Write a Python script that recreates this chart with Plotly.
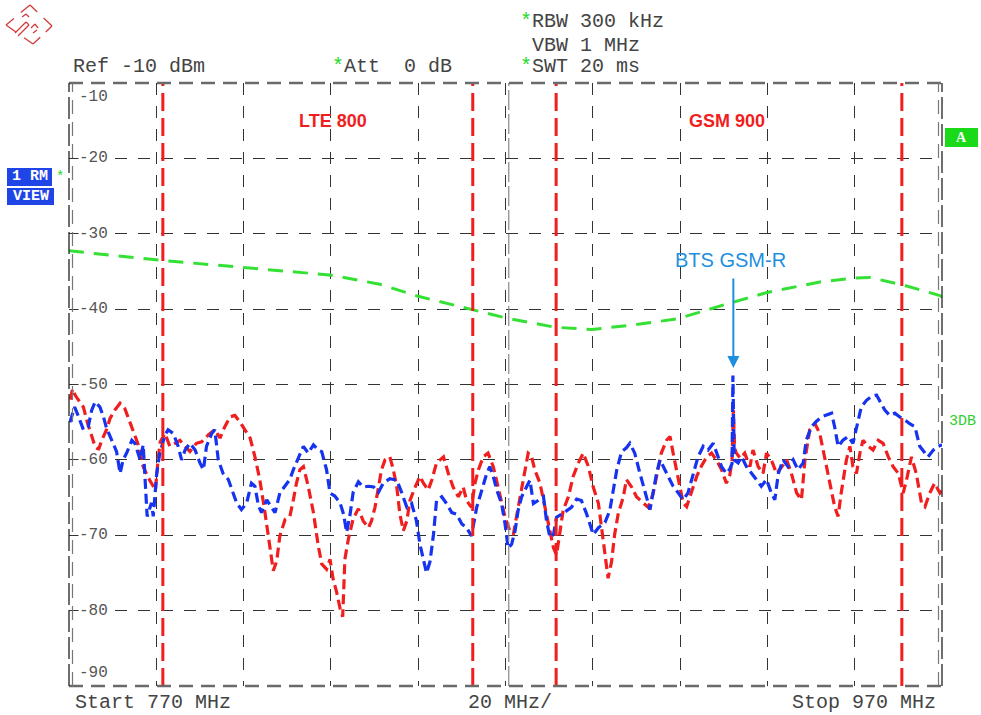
import plotly.graph_objects as go

# ---------------- data ----------------
freq_red = [770.3, 770.8, 771.5, 772.5, 773.3, 774.2, 774.8, 776.0, 776.8, 777.5, 778.6, 779.4, 780.5,
            781.7, 782.8, 783.6, 784.7, 786.0, 787.0, 788.2, 789.3, 789.8, 790.4, 790.9, 792.0, 793.1,
            794.3, 795.4, 796.6, 797.7, 799.2, 800.4, 801.9, 803.4, 804.6, 805.7, 806.9, 808.0, 809.2,
            810.3, 811.5, 812.6, 813.7, 814.9, 815.6, 816.8, 817.6, 818.3, 819.5, 820.6, 821.4, 822.1,
            822.9, 823.7, 824.8, 826.0, 827.1, 827.9, 829.0, 829.8, 830.5, 831.3, 832.1, 832.7, 833.2,
            834.0, 835.1, 836.3, 837.4, 838.6, 839.3, 840.1, 840.9, 841.6, 842.4, 843.5, 844.3, 845.1,
            845.8, 846.6, 847.4, 848.1, 849.3, 850.4, 851.2, 852.3, 853.1, 854.2, 855.8, 856.9, 858.0,
            859.2, 860.3, 861.1, 862.2, 863.0, 863.8, 864.9, 866.0, 867.2, 868.3, 869.1, 869.9, 871.0,
            871.8, 872.5, 873.3, 874.1, 875.2, 875.9, 876.7, 877.9, 879.0, 880.2, 881.0, 881.7, 882.5,
            883.2, 884.4, 885.5, 886.7, 887.8, 889.0, 890.1, 891.3, 892.0, 892.8, 893.5, 894.3, 895.0,
            895.8, 897.0, 897.7, 898.9, 900.0, 901.6, 902.7, 903.8, 905.0, 905.7, 906.9, 907.7, 908.4,
            909.6, 910.7, 911.5, 912.6, 913.8, 914.9, 916.1, 917.2, 918.3, 919.5, 920.6, 921.4, 921.9,
            922.2, 922.5, 922.9, 923.8, 924.8, 926.0, 926.7, 927.9, 929.0, 929.8, 930.9, 932.1, 933.2,
            934.4, 935.5, 936.7, 937.8, 938.6, 939.7, 940.9, 942.0, 943.2, 944.3, 945.4, 946.2, 946.9,
            948.1, 948.9, 949.6, 950.4, 951.2, 951.9, 953.1, 954.2, 955.4, 956.5, 957.7, 958.8, 960.0,
            961.1, 961.9, 963.0, 964.1, 965.3, 966.1, 967.2, 968.3, 969.5, 970.0]
lvl_red = [-52.0, -50.6, -51.5, -52.3, -53.0, -55.0, -56.2, -58.3, -58.6, -57.4, -56.0, -54.5, -53.4,
           -52.5, -53.2, -54.4, -56.0, -58.2, -60.9, -62.4, -63.5, -64.0, -60.0, -57.6, -56.5, -58.2,
           -57.8, -57.4, -58.2, -58.9, -57.8, -57.6, -56.7, -56.0, -57.1, -55.6, -54.3, -54.1, -55.0,
           -56.0, -57.1, -59.6, -62.6, -67.0, -70.1, -74.7, -73.4, -70.1, -67.9, -67.5, -65.3, -63.1,
           -61.3, -60.9, -63.5, -67.0, -71.4, -73.8, -74.5, -73.2, -75.8, -77.5, -79.7, -80.8, -73.2,
           -70.5, -67.8, -66.5, -68.1, -69.0, -68.1, -66.3, -63.6, -61.3, -60.0, -59.6, -61.3, -63.6,
           -67.2, -69.4, -68.1, -65.4, -63.6, -62.2, -63.1, -64.0, -62.7, -60.4, -59.6, -61.8, -63.6,
           -64.9, -63.6, -65.4, -66.3, -63.1, -61.3, -59.6, -59.1, -60.9, -63.6, -65.4, -67.6, -69.4,
           -69.9, -67.6, -64.9, -62.7, -59.1, -59.4, -61.3, -63.1, -66.3, -69.4, -71.7, -72.6, -69.4,
           -66.7, -64.9, -62.2, -60.4, -59.1, -60.9, -63.6, -65.8, -69.0, -72.6, -75.7, -73.5, -69.9,
           -67.2, -64.9, -62.6, -63.6, -64.9, -65.8, -66.3, -64.5, -61.3, -59.1, -57.4, -56.9, -59.1,
           -62.6, -65.7, -66.2, -64.4, -62.2, -60.8, -59.6, -59.1, -60.0, -61.3, -63.1, -62.0, -60.0,
           -53.4, -58.5, -59.1, -59.8, -59.1, -60.9, -58.7, -60.9, -61.8, -59.1, -60.0, -61.8, -61.0,
           -60.0, -61.8, -64.4, -65.3, -60.0, -56.0, -55.2, -56.5, -60.0, -63.5, -66.2, -67.5, -64.4,
           -60.0, -58.2, -60.9, -61.8, -59.1, -57.4, -58.2, -58.7, -57.4, -57.8, -59.6, -60.9, -61.8,
           -64.4, -62.6, -59.6, -61.8, -65.7, -66.2, -64.4, -63.1, -64.4, -64.0]

freq_blue = [770.2, 770.6, 771.3, 772.0, 773.3, 774.4, 775.2, 776.0, 777.1, 777.9, 778.6, 779.8, 780.9,
             781.7, 782.4, 783.2, 784.4, 785.1, 786.3, 787.0, 787.6, 787.9, 788.9, 789.3, 790.1, 790.8,
             792.0, 792.7, 793.9, 795.0, 795.8, 796.6, 797.7, 798.9, 800.0, 800.8, 801.5, 802.7, 803.4,
             804.2, 805.3, 806.5, 807.6, 808.4, 809.5, 810.7, 811.8, 812.6, 813.4, 814.1, 815.3, 816.4,
             817.2, 818.3, 819.5, 820.6, 821.4, 822.5, 823.7, 824.8, 826.0, 827.1, 827.9, 829.0, 829.8,
             830.9, 832.1, 832.9, 833.6, 834.4, 835.1, 836.3, 837.4, 838.6, 839.8, 840.9, 842.0, 843.5,
             845.1, 846.2, 847.4, 848.5, 849.6, 850.4, 851.2, 851.9, 852.7, 853.5, 854.2, 855.4, 856.5,
             857.7, 858.8, 860.0, 861.1, 862.2, 863.4, 864.5, 865.7, 866.4, 867.2, 868.0, 869.1, 869.9,
             870.6, 871.4, 872.2, 872.9, 873.7, 874.8, 875.6, 876.4, 877.5, 878.7, 879.4, 880.2, 881.0,
             881.7, 882.9, 884.0, 885.1, 886.3, 887.4, 888.6, 889.3, 890.1, 891.3, 892.8, 893.9, 894.7,
             895.5, 896.6, 897.7, 898.5, 899.6, 900.8, 901.9, 903.1, 903.8, 904.6, 905.4, 906.5, 907.7,
             908.4, 909.6, 910.7, 911.8, 913.0, 914.1, 915.3, 916.4, 917.6, 918.7, 919.5, 920.6, 921.4,
             921.9, 922.1, 922.4, 923.3, 924.1, 925.2, 926.4, 927.5, 928.6, 929.8, 930.9, 931.7, 932.5,
             933.6, 934.7, 935.9, 937.0, 938.2, 938.9, 940.1, 941.2, 942.4, 943.5, 944.7, 945.4, 946.2,
             947.3, 948.5, 949.6, 950.4, 951.5, 952.7, 953.8, 955.0, 955.7, 956.9, 958.0, 959.2, 960.3,
             961.5, 962.6, 963.8, 964.9, 966.1, 966.8, 968.0, 969.1, 970.0]
lvl_blue = [-55.0, -54.3, -53.0, -54.0, -56.0, -55.6, -53.4, -52.3, -53.0, -54.3, -55.8, -57.4, -58.9,
            -61.8, -60.0, -59.1, -57.4, -57.8, -60.0, -58.0, -63.9, -67.5, -65.7, -67.5, -61.8, -59.1,
            -56.7, -56.0, -56.5, -58.2, -60.0, -58.7, -57.8, -58.7, -60.4, -61.3, -58.2, -56.5, -56.0,
            -60.0, -61.8, -62.6, -64.4, -65.7, -66.6, -65.7, -63.1, -63.5, -66.1, -67.0, -65.3, -66.4,
            -67.0, -64.4, -63.5, -62.6, -61.3, -59.8, -58.2, -59.1, -58.0, -58.7, -58.9, -61.3, -64.4,
            -64.8, -65.7, -67.2, -69.6, -67.2, -64.3, -62.9, -63.6, -63.5, -63.6, -64.3, -63.1, -62.5,
            -62.7, -64.3, -66.3, -65.8, -68.1, -71.2, -73.5, -75.0, -73.5, -69.9, -65.4, -64.9, -65.8,
            -67.0, -67.2, -68.5, -69.0, -70.1, -66.3, -64.0, -61.8, -60.9, -62.2, -64.0, -65.8, -68.5,
            -71.7, -71.2, -69.4, -66.7, -64.9, -63.6, -62.7, -65.8, -65.4, -64.9, -68.1, -70.3, -69.9,
            -67.6, -67.2, -66.7, -66.3, -65.2, -65.4, -67.2, -68.5, -69.9, -69.0, -68.3, -66.7, -64.0,
            -61.3, -58.9, -58.4, -57.8, -59.1, -61.8, -64.0, -66.6, -64.4, -61.8, -60.0, -61.3, -62.6,
            -63.5, -64.4, -65.3, -64.4, -61.8, -59.6, -58.2, -58.7, -57.8, -59.6, -60.9, -61.8, -61.2,
            -60.5, -48.8, -60.0, -60.4, -59.6, -60.9, -61.8, -62.6, -63.5, -62.6, -64.4, -65.3, -61.8,
            -60.0, -60.9, -60.0, -61.3, -60.4, -57.4, -55.6, -54.9, -54.3, -54.1, -53.8, -55.6, -58.2,
            -57.4, -56.9, -57.8, -55.6, -53.0, -52.1, -51.6, -51.4, -52.1, -53.4, -54.1, -53.8, -54.3,
            -54.7, -55.2, -55.6, -58.2, -59.1, -59.6, -58.7, -58.2, -58.0]

freq_limit = [770.0, 770.6, 790.6, 810.0, 830.2, 841.2, 850.0, 862.6, 870.3, 881.3, 889.8, 899.2,
              909.3, 921.4, 929.9, 942.0, 949.6, 953.5, 961.1, 969.5, 970.0]
lvl_limit = [-32.2, -32.3, -33.5, -34.5, -35.5, -36.7, -38.3, -40.1, -41.2, -42.4, -42.7, -42.1,
             -41.3, -39.2, -37.8, -36.4, -35.9, -35.8, -36.8, -38.2, -38.4]

band_edges = [791.5, 862.5, 881.6, 960.8]
band_labels = ["LTE 800", "GSM 900"]
band_label_freqs = [830.5, 920.7]
band_label_level = -15.0

marker_freq = 922.2
marker_label = "BTS GSM-R"

y_ticks = [-10, -20, -30, -40, -50, -60, -70, -80, -90]
x_start, x_stop = 770, 970
y_bottom, y_top = -90, -10

# ---------------- layout geometry helpers ----------------
W, H = 981, 715
L, R, T, B = 69, 942, 83, 686


def px(x):
    return (x - L) / (R - L)


def py(y):
    return (B - y) / (B - T)


RED = "#f01e1e"
BLUE = "#1633f0"
GREEN = "#33e033"
MONO = "Liberation Mono, Courier New, monospace"
SANS = "Liberation Sans, Arial, sans-serif"
TXT = "#444444"

fig = go.Figure()
fig.add_trace(go.Scatter(x=freq_limit, y=lvl_limit, mode="lines",
                         line=dict(color=GREEN, width=3, dash="15px,10px"), hoverinfo="skip"))
fig.add_trace(go.Scatter(x=freq_red, y=lvl_red, mode="lines",
                         line=dict(color=RED, width=3.2, dash="10px,5px"), hoverinfo="skip"))
fig.add_trace(go.Scatter(x=freq_blue, y=lvl_blue, mode="lines",
                         line=dict(color=BLUE, width=3.2, dash="10px,5px"), hoverinfo="skip"))

shapes = []
# band edge markers
for f in band_edges:
    shapes.append(dict(type="line", xref="x", yref="paper", x0=f, x1=f, y0=0, y1=1,
                       line=dict(color=RED, width=3, dash="18px,7px"), layer="above"))
# display center line
shapes.append(dict(type="line", xref="x", yref="paper", x0=870.75, x1=870.75, y0=0, y1=1,
                   line=dict(color="#888", width=1.2, dash="20px,4px")))
# frame
shapes += [
    dict(type="line", xref="paper", yref="paper", x0=0, x1=1, y0=1, y1=1,
         line=dict(color="#6a6a6a", width=2.5, dash="14px,8px")),
    dict(type="line", xref="paper", yref="paper", x0=0, x1=1, y0=0, y1=0,
         line=dict(color="#6a6a6a", width=2.5, dash="14px,8px")),
    dict(type="line", xref="paper", yref="paper", x0=0, x1=0, y0=0, y1=1,
         line=dict(color="#222", width=1.3, dash="22px,5px")),
    dict(type="line", xref="paper", yref="paper", x0=px(72.5), x1=px(72.5), y0=0, y1=1,
         line=dict(color="#777", width=1.2, dash="14px,8px")),
    dict(type="line", xref="paper", yref="paper", x0=1, x1=1, y0=0, y1=1,
         line=dict(color="#222", width=1.3, dash="22px,5px")),
    dict(type="line", xref="paper", yref="paper", x0=px(938.5), x1=px(938.5), y0=0, y1=1,
         line=dict(color="#777", width=1.2, dash="14px,8px")),
]
# status boxes
shapes += [
    dict(type="rect", xref="paper", yref="paper", x0=px(7), x1=px(52), y0=py(186), y1=py(168),
         fillcolor="#1f45e6", line=dict(width=0)),
    dict(type="rect", xref="paper", yref="paper", x0=px(7), x1=px(54), y0=py(205), y1=py(188),
         fillcolor="#1f45e6", line=dict(width=0)),
    dict(type="rect", xref="paper", yref="paper", x0=px(945), x1=px(978), y0=py(147), y1=py(128),
         fillcolor="#19d919", line=dict(width=0)),
]
# logo (broken diamond)
LOGO = "#d23a3a"
Tp, Rp, Bp, Lp = (30, 5), (52, 26), (33, 44), (6, 25)


def seg(a, b, t0, t1):
    return ((a[0] + (b[0] - a[0]) * t0, a[1] + (b[1] - a[1]) * t0),
            (a[0] + (b[0] - a[0]) * t1, a[1] + (b[1] - a[1]) * t1))


logo_segs = []
for a, b in [(Tp, Rp), (Rp, Bp), (Bp, Lp), (Lp, Tp)]:
    logo_segs.append(seg(a, b, 0.0, 0.33))
    logo_segs.append(seg(a, b, 0.62, 1.0))
logo_segs += [((15, 33), (26, 22)), ((18, 36), (29, 25)), ((26, 22), (29, 25)),
              ((22, 17), (26, 14)), ((26, 14), (29, 17)), ((31, 28), (35, 24)),
              ((35, 24), (38, 28)), ((33, 33), (37, 30))]
for (x0, y0), (x1, y1) in logo_segs:
    shapes.append(dict(type="line", xref="paper", yref="paper", x0=px(x0), x1=px(x1),
                       y0=py(y0), y1=py(y1), line=dict(color=LOGO, width=1.3)))

ann = []


def text(x, y, s, color=TXT, size=20, family=MONO, xanchor="left", **kw):
    ann.append(dict(xref="paper", yref="paper", x=px(x), y=py(y), text=s, showarrow=False,
                    xanchor=xanchor, yanchor="middle", font=dict(color=color, size=size, family=family),
                    **kw))


G = "<span style='color:#22d822'>*</span>"
text(71, 67, "Ref -10 dBm")
text(330, 67, G + "Att\u00a0\u00a00 dB")
text(518, 22, G + "RBW 300 kHz")
text(530, 45, "VBW 1 MHz")
text(518, 67, G + "SWT 20 ms")
text(73, 702, "Start 770 MHz")
text(466, 702, "20 MHz/")
text(938, 702, "Stop 970 MHz", xanchor="right")
text(29.5, 177, "<b>1 RM</b>", color="white", size=15, xanchor="center")
text(30.5, 196.5, "<b>VIEW</b>", color="white", size=15, xanchor="center")
text(59.5, 177, "*", color="#22d822", size=14, xanchor="center")
text(961.5, 137.5, "<b>A</b>", color="white", size=14, family="Liberation Serif, serif", xanchor="center")
text(962.5, 421.5, "3DB", color="#2fd02f", size=15, xanchor="center")

# y tick labels inside the plot
for v in y_ticks:
    shift = -14 if v == y_top else (13 if v == y_bottom else 0)
    ann.append(dict(xref="paper", yref="y", x=px(78), y=v, yshift=shift, text=str(v),
                    showarrow=False, xanchor="left", yanchor="middle", bgcolor="white", borderpad=0,
                    font=dict(color="#555", size=16, family=MONO)))

# band labels
for lab, f in zip(band_labels, band_label_freqs):
    ann.append(dict(xref="x", yref="y", x=f, y=band_label_level, text="<b>%s</b>" % lab,
                    showarrow=False, xanchor="center", yanchor="middle",
                    font=dict(color=RED, size=18, family=SANS)))

# marker annotation
ann.append(dict(xref="x", yref="paper", x=marker_freq - 0.6, y=py(260), text=marker_label,
                showarrow=False, xanchor="center", yanchor="middle",
                font=dict(color="#1e8fe0", size=20, family=SANS)))
ann.append(dict(xref="x", yref="paper", x=marker_freq, y=py(368), text="", showarrow=True,
                ax=0, ay=-91, arrowhead=2, arrowsize=1.2, arrowwidth=2, arrowcolor="#1e8fe0"))

fig.update_layout(
    width=W, height=H, autosize=False,
    margin=dict(l=L, r=W - R, t=T, b=H - B, pad=0),
    paper_bgcolor="white", plot_bgcolor="white",
    showlegend=False,
    shapes=shapes, annotations=ann,
    xaxis=dict(range=[x_start, x_stop], tick0=x_start, dtick=20, showticklabels=False,
               showgrid=True, gridcolor="#333", gridwidth=1, griddash="12px,11px",
               zeroline=False, showline=False, ticks=""),
    yaxis=dict(range=[y_bottom, y_top], tick0=y_bottom, dtick=10, showticklabels=False,
               showgrid=True, gridcolor="#333", gridwidth=1, griddash="12px,11px",
               zeroline=False, showline=False, ticks=""),
)

fig.write_html("out.html", config={"displayModeBar": False},
               post_script="document.body.style.margin='0px';document.body.style.overflow='hidden';")
